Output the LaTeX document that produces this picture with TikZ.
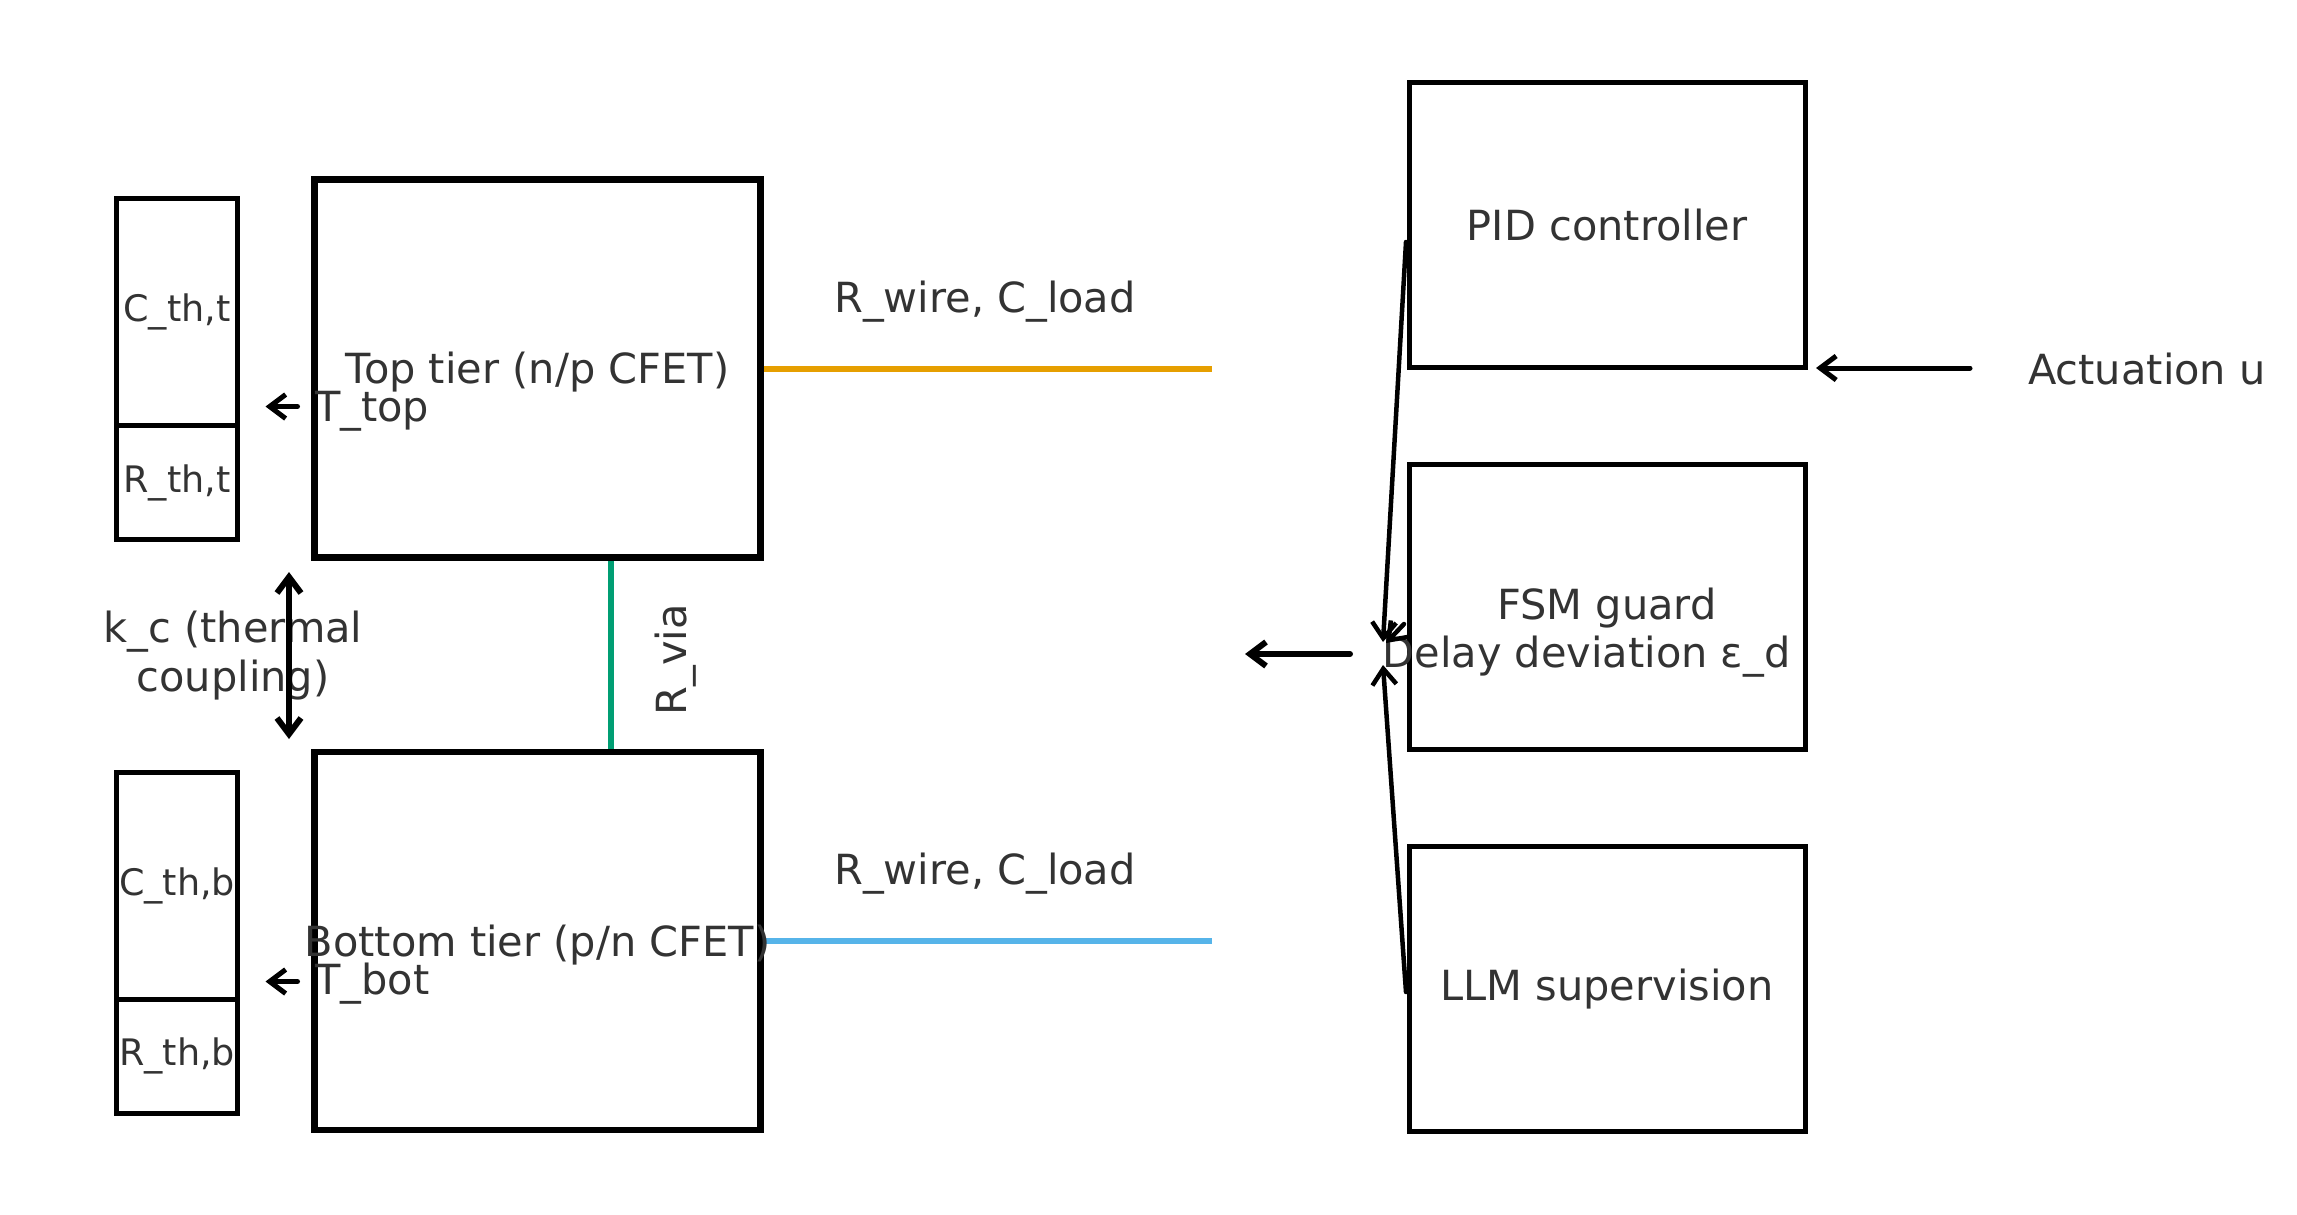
\documentclass[tikz,border=0pt]{standalone}
\usepackage{fontspec}
\setmainfont{DejaVu Sans}
\usetikzlibrary{arrows.meta}
\definecolor{txt}{RGB}{51,51,51}
\definecolor{corange}{RGB}{230,159,0}
\definecolor{cgreen}{RGB}{0,158,115}
\definecolor{cblue}{RGB}{86,180,233}
\begin{document}
\begin{tikzpicture}[x=1pt,y=-1pt,
  big/.style={font=\fontsize{41.5}{49}\selectfont, text=txt},
  small/.style={font=\fontsize{36.5}{44}\selectfont, text=txt},
  tier/.style={draw=black, line width=6.5pt, inner sep=0pt, minimum width=446pt, minimum height=378pt},
  ctrl/.style={draw=black, line width=5pt, inner sep=0pt, minimum width=396pt, minimum height=285pt},
  therm/.style={draw=black, line width=5pt, inner sep=0pt, minimum width=121pt, small},
  lbl/.style={big, inner sep=0pt},
  arr/.style={-{Straight Barb[length=16pt,width=24pt]}, line width=5pt, line cap=round},
  dblarr/.style={{Straight Barb[length=16pt,width=24pt]}-{Straight Barb[length=16pt,width=24pt]}, line width=6pt, line cap=round},
  wire/.style={line width=6pt}
]
\useasboundingbox (0,0) rectangle (2297,1215);
\fill[white] (0,0) rectangle (2297,1215);

% tiers
\node[tier] (top) at (537.5,368.5) {};
\node[tier] (bot) at (537.5,941) {};

% thermal RC boxes
\node[therm, minimum height=227pt] (cth) at (177,312) {C\_th,t};
\node[therm, minimum height=114pt] (rth) at (177,482.5) {R\_th,t};
\node[therm, minimum height=227pt] (cbh) at (177,885.5) {C\_th,b};
\node[therm, minimum height=114pt] (rbh) at (177,1056) {R\_th,b};

% control boxes
\node[ctrl] (pid) at (1607,225) {};
\node[ctrl] (fsm) at (1607,607) {};
\node[ctrl] (llm) at (1607,988.5) {};

% free-end coordinates
\coordinate (w1end) at (1212,368.5);
\coordinate (w2end) at (1212,941);
\coordinate (via) at (611,0);
\coordinate (ttopA) at (297.5,406.5);
\coordinate (ttopB) at (265.5,406.5);
\coordinate (tbotA) at (297.5,981.5);
\coordinate (tbotB) at (265.5,981.5);
\coordinate (kcA) at (289,572);
\coordinate (kcB) at (289,739);
\coordinate (pidS) at (1406,242);
\coordinate (pidE) at (1383,642);
\coordinate (fsmS) at (1404,624);
\coordinate (fsmE) at (1386,643);
\coordinate (llmS) at (1406,992);
\coordinate (llmE) at (1383,665);
\coordinate (outA) at (1350,654);
\coordinate (outB) at (1245,654);
\coordinate (actA) at (1970,368);
\coordinate (actB) at (1816,368);

% wires
\draw[wire, corange] (top.east) -- (w1end);
\draw[wire, cblue] (bot.east) -- (w2end);
\draw[wire, cgreen] (top.south -| via) -- (bot.north -| via);

% labels
\node[lbl] (toptxt) at (top.center) [yshift=-4pt] {Top tier (n/p CFET)};
\node[lbl] (bottxt) at (bot.center) [yshift=-4pt] {Bottom tier (p/n CFET)};
\node[lbl] (pidtxt) at (pid.center) {PID controller};
\node[lbl] (fsmtxt) at (1607,608) {FSM guard};
\node[lbl] (llmtxt) at (llm.center) [yshift=-1pt] {LLM supervision};
\node[lbl, anchor=west] (ttop) at (315,411) {T\_top};
\node[lbl, anchor=west] (tbot) at (315,984) {T\_bot};
\node[lbl] (rw1) at (985,302) {R\_wire, C\_load};
\node[lbl] (rw2) at (985,874) {R\_wire, C\_load};
\node[lbl, rotate=90] (rvia) at (676,660) {R\_via};
\node[lbl, align=center] (kc) at (233,656) {k\_c (thermal\\coupling)};
\node[lbl] (delay) at (1586.5,657) {Delay deviation ε\_d};
\node[lbl, anchor=west] (act) at (2028,369) {Actuation u};

% arrows
\draw[arr] (ttopA) -- (ttopB);
\draw[arr] (tbotA) -- (tbotB);
\draw[dblarr] (kcA) -- (kcB);
\draw[arr, line width=4.5pt] (pidS) -- (pidE);
\draw[arr, line width=4.5pt] (fsmS) -- (fsmE);
\draw[arr, line width=4.5pt] (llmS) -- (llmE);
\draw[arr, line width=6pt] (outA) -- (outB);
\draw[arr] (actA) -- (actB);
\end{tikzpicture}
\end{document}
